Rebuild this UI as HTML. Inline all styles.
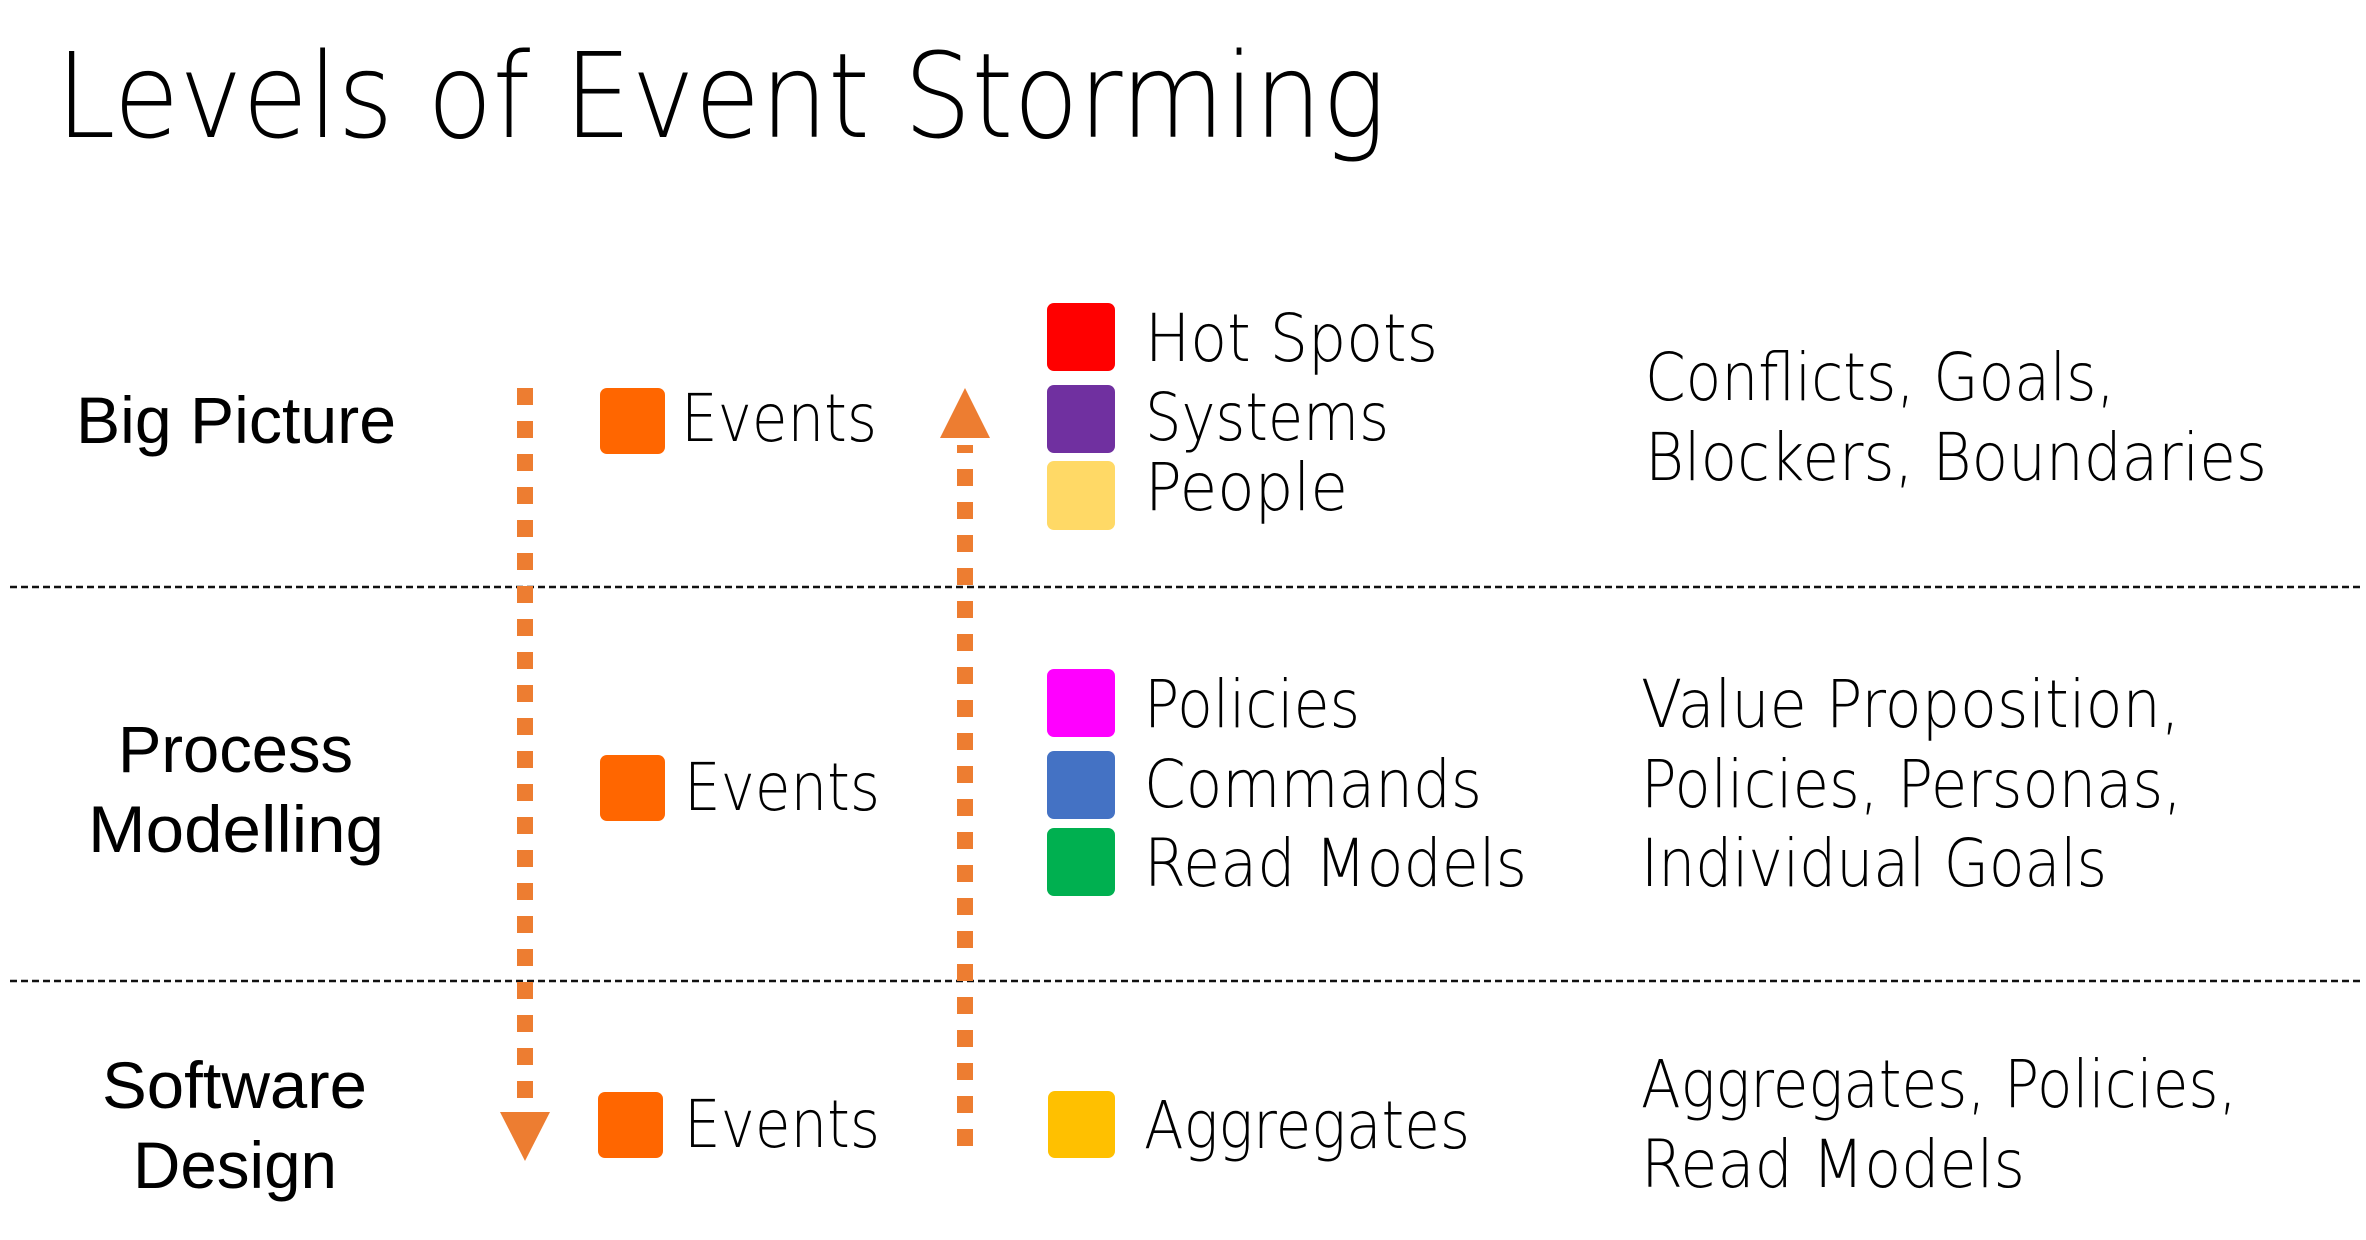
<!DOCTYPE html>
<html><head><meta charset="utf-8"><style>html,body{margin:0;padding:0;background:#fff}svg{display:block}.l{font-family:"DejaVu Sans","Liberation Sans",sans-serif;font-weight:200}</style></head>
<body>
<svg width="2366" height="1240" viewBox="0 0 2366 1240" xmlns="http://www.w3.org/2000/svg" font-family="Liberation Sans, sans-serif" fill="#000">
<text class="l" x="56" y="137" font-size="118" textLength="1330" lengthAdjust="spacingAndGlyphs">Levels of Event Storming</text>
<line x1="10" y1="587" x2="2360" y2="587" stroke="#111" stroke-width="2.5" stroke-dasharray="7,4"/>
<line x1="10" y1="981" x2="2360" y2="981" stroke="#111" stroke-width="2.5" stroke-dasharray="7,4"/>
<g font-size="66">
<text x="76" y="443" textLength="320" lengthAdjust="spacingAndGlyphs">Big Picture</text>
<text x="118" y="772" textLength="235" lengthAdjust="spacingAndGlyphs">Process</text>
<text x="88" y="852" textLength="296" lengthAdjust="spacingAndGlyphs">Modelling</text>
<text x="102" y="1108" textLength="265" lengthAdjust="spacingAndGlyphs">Software</text>
<text x="133" y="1188" textLength="204" lengthAdjust="spacingAndGlyphs">Design</text>
</g>
<line x1="525" y1="388" x2="525" y2="1105" stroke="#ED7D31" stroke-width="16" stroke-dasharray="17,16"/>
<polygon points="500,1112 550,1112 525,1161" fill="#ED7D31"/>
<line x1="965" y1="1146" x2="965" y2="445" stroke="#ED7D31" stroke-width="16" stroke-dasharray="17,16"/>
<polygon points="940,438 990,438 965,388" fill="#ED7D31"/>
<g fill="#FF6600">
<rect x="600" y="388" width="65" height="66" rx="7"/>
<rect x="600" y="755" width="65" height="66" rx="7"/>
<rect x="598" y="1092" width="65" height="66" rx="7"/>
</g>
<g font-size="66" class="l">
<text x="681" y="441" textLength="196" lengthAdjust="spacingAndGlyphs">Events</text>
<text x="684" y="810" textLength="196" lengthAdjust="spacingAndGlyphs">Events</text>
<text x="684" y="1147" textLength="196" lengthAdjust="spacingAndGlyphs">Events</text>
</g>
<rect x="1047" y="303" width="68" height="68" rx="7" fill="#FF0000"/>
<rect x="1047" y="385" width="68" height="68" rx="7" fill="#7030A0"/>
<rect x="1047" y="461" width="68" height="69" rx="7" fill="#FFD966"/>
<rect x="1047" y="669" width="68" height="68" rx="7" fill="#FF00FF"/>
<rect x="1047" y="751" width="68" height="68" rx="7" fill="#4472C4"/>
<rect x="1047" y="828" width="68" height="68" rx="7" fill="#00B050"/>
<rect x="1048" y="1091" width="67" height="67" rx="7" fill="#FFC000"/>
<g font-size="66" class="l">
<text x="1145" y="361" textLength="293" lengthAdjust="spacingAndGlyphs">Hot Spots</text>
<text x="1145" y="440" textLength="244" lengthAdjust="spacingAndGlyphs">Systems</text>
<text x="1145" y="510" textLength="203" lengthAdjust="spacingAndGlyphs">People</text>
<text x="1144" y="727" textLength="216" lengthAdjust="spacingAndGlyphs">Policies</text>
<text x="1144" y="807" textLength="338" lengthAdjust="spacingAndGlyphs">Commands</text>
<text x="1144" y="886" textLength="383" lengthAdjust="spacingAndGlyphs">Read Models</text>
<text x="1144" y="1148" textLength="326" lengthAdjust="spacingAndGlyphs">Aggregates</text>
<text x="1645" y="400" textLength="470" lengthAdjust="spacingAndGlyphs">Conflicts, Goals,</text>
<text x="1645" y="480" textLength="622" lengthAdjust="spacingAndGlyphs">Blockers, Boundaries</text>
<text x="1641" y="727" textLength="539" lengthAdjust="spacingAndGlyphs">Value Proposition,</text>
<text x="1641" y="807" textLength="541" lengthAdjust="spacingAndGlyphs">Policies, Personas,</text>
<text x="1641" y="886" textLength="466" lengthAdjust="spacingAndGlyphs">Individual Goals</text>
<text x="1641" y="1107" textLength="596" lengthAdjust="spacingAndGlyphs">Aggregates, Policies,</text>
<text x="1641" y="1187" textLength="384" lengthAdjust="spacingAndGlyphs">Read Models</text>
</g>
</svg>
</body></html>
